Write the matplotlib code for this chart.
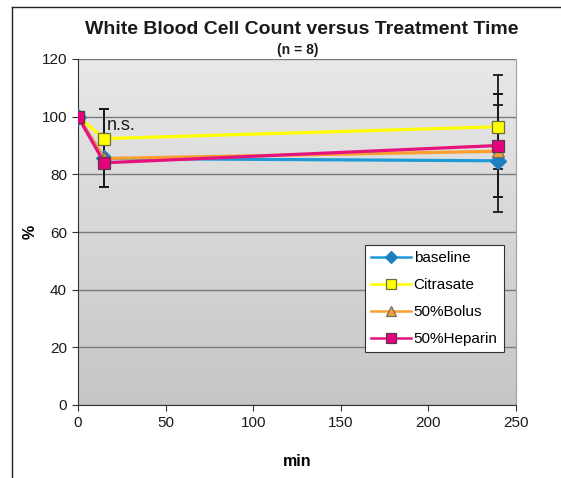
import numpy as np
import matplotlib
matplotlib.use("Agg")
import matplotlib.pyplot as plt
from matplotlib.lines import Line2D

plt.rcParams['font.family'] = ['Liberation Sans', 'DejaVu Sans']

# data
minutes = [0, 15, 240]
baseline = [100, 85.5, 84.7]
citrasate = [100, 92.4, 96.5]
bolus = [100, 85.5, 88.0]
heparin = [100, 84.0, 90.0]

# error bar ends (lower, upper) in %
baseline_lo = [100, 75.5, 67.0]
baseline_hi = [100, 102.5, 104.1]
citrasate_lo = [100, 75.5, 82.0]
citrasate_hi = [100, 102.5, 114.5]
bolus_lo = [100, 75.5, 72.0]
bolus_hi = [100, 102.5, 107.8]
heparin_lo = [100, 75.5, 72.0]
heparin_hi = [100, 102.5, 107.8]

series = [
    ('baseline', baseline, baseline_lo, baseline_hi, '#1E9BD7', 'D', '#1E7FC0', '#2080C0', 8),
    ('Citrasate', citrasate, citrasate_lo, citrasate_hi, '#FFFF00', 's', '#FFFF00', '#6E6E3C', 8.5),
    ('50%Bolus', bolus, bolus_lo, bolus_hi, '#F7A030', '^', '#F7A030', '#6E6E6E', 8.5),
    ('50%Heparin', heparin, heparin_lo, heparin_hi, '#E6137F', 's', '#E6007E', '#5A3A4A', 8.5),
]

fig = plt.figure(figsize=(5.61, 4.78), dpi=100)
ax = fig.add_axes([78/561, 1-405/478, 438/561, 346/478])

# gradient background
grad = np.linspace(0, 1, 256).reshape(-1, 1)
ax.imshow(grad, extent=[0, 1, 0, 1], transform=ax.transAxes, aspect='auto',
          cmap=matplotlib.colors.LinearSegmentedColormap.from_list('g', ['#E8E8E8', '#C6C6C6']),
          zorder=0)

ax.set_xlim(0, 250)
ax.set_ylim(0, 120)
ax.set_xticks([0, 50, 100, 150, 200, 250])
ax.set_yticks([0, 20, 40, 60, 80, 100, 120])
ax.yaxis.grid(True, color='#7A7A7A', linewidth=1.0, zorder=1)
ax.set_axisbelow(True)

for name, vals, lo, hi, lc, mk, mfc, mec, ms in series:
    v = np.array(vals)
    err = [v - np.array(lo), np.array(hi) - v]
    ax.errorbar(minutes, vals, yerr=err, fmt='none', ecolor='#1A1A1A',
                elinewidth=1.3, capsize=3.5, capthick=1.3, zorder=3)

for name, vals, lo, hi, lc, mk, mfc, mec, ms in series:
    ax.plot(minutes, vals, color=lc, linewidth=2.3, marker=mk, markersize=ms,
            markerfacecolor=mfc, markeredgecolor=mec, markeredgewidth=0.9,
            label=name, zorder=4)

ax.text(16.5, 96.8, 'n.s.', fontsize=13, va='center', ha='left', color='#1A1A1A', zorder=5)

ax.spines['top'].set_visible(False)
ax.spines['right'].set_color('#A0A0A0')
ax.spines['left'].set_color('#333333')
ax.spines['bottom'].set_color('#333333')
ax.tick_params(direction='out', length=4.5, colors='#333333', labelsize=11,
               labelcolor='#1A1A1A')

ax.set_xlabel('min', fontsize=11.5, fontweight='bold', labelpad=17)
ax.set_ylabel('%', fontsize=11.5, fontweight='bold', labelpad=3)

leg = ax.legend(loc='lower right', bbox_to_anchor=(0.972, 0.153), fontsize=11,
                fancybox=False, framealpha=1, edgecolor='#333333',
                handlelength=2.6, handletextpad=0.2, borderpad=0.4,
                labelspacing=0.85, borderaxespad=0, markerscale=0.8)
leg.get_frame().set_linewidth(0.8)
for h in leg.get_lines():
    h.set_linewidth(1.8)

fig.text(0.538, 1-30/478, 'White Blood Cell Count versus Treatment Time',
         ha='center', va='center', fontsize=14, fontweight='bold', color='#1A1A1A')
fig.text(0.53, 1-50/478, '(n = 8)', ha='center', va='center', fontsize=10,
         fontweight='bold', color='#1A1A1A')

# outer frame lines (top and left)
fig.add_artist(Line2D([12/561, 1], [1-7/478, 1-7/478], color='#222222', linewidth=1.0,
                      transform=fig.transFigure))
fig.add_artist(Line2D([12/561, 12/561], [0, 1-7/478], color='#222222', linewidth=1.0,
                      transform=fig.transFigure))

fig.savefig('out.png', dpi=100)
